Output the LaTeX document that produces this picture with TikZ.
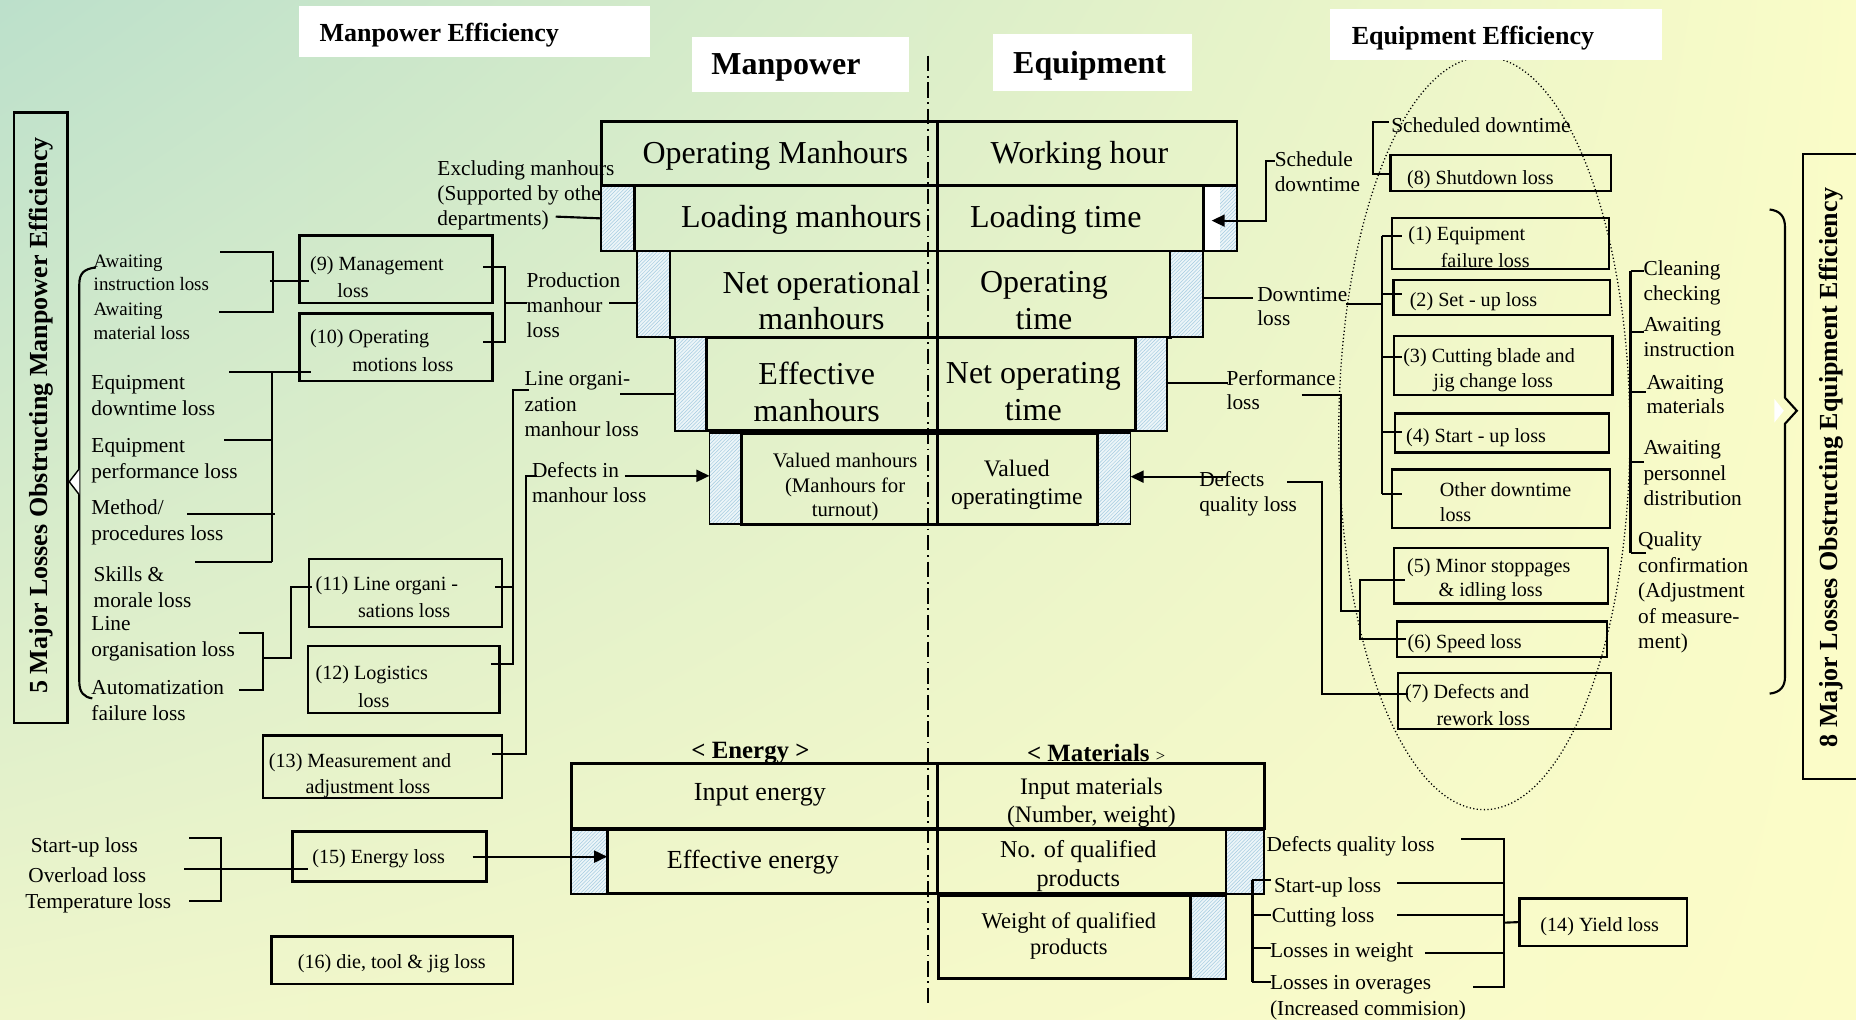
\documentclass[tikz,border=0pt]{standalone}
\usepackage{fontspec}
\setmainfont{Liberation Serif}
\usetikzlibrary{arrows.meta,patterns,shadings}
\definecolor{bgTL}{RGB}{188,224,203}
\definecolor{bgTR}{RGB}{250,252,200}
\definecolor{bgBL}{RGB}{239,246,203}
\definecolor{bgBR}{RGB}{252,252,200}
\definecolor{hatchbg}{RGB}{236,245,248}
\definecolor{hatchln}{RGB}{165,203,224}
\newcommand\szL{\fontsize{27}{31}\selectfont}
\newcommand\szM{\fontsize{22}{25}\selectfont}
\newcommand\szS{\fontsize{18}{22}\selectfont}
\newcommand\szB{\fontsize{17}{21}\selectfont}
\newcommand\szX{\fontsize{16}{20}\selectfont}
\newcommand\rect[6]{\node[#1,anchor=north west,minimum width={(#5-(#3))*1pt},minimum height={(#6-(#4))*1pt}] (#2) at (#3,#4) {};}
\begin{document}
\begin{tikzpicture}[x=1pt,y=-1pt,
  every node/.style={inner sep=0pt,outer sep=0pt},
  rowbox/.style={draw=black,line width=2.4pt},
  lossbox/.style={draw=black,line width=2pt},
  hatchbox/.style={draw=black,line width=1.6pt,preaction={fill=hatchbg},pattern=north east lines,pattern color=hatchln},
  whitebox/.style={fill=white},
  ln/.style={line width=1.8pt},
  arr/.style={line width=1.8pt,-{Triangle[length=11pt,width=10pt]}},
  lab/.style={anchor=west,align=left,font=\szS,yshift=-1pt},
  labx/.style={anchor=west,align=left,font=\szX},
  btxt/.style={anchor=west,align=left,font=\szB,yshift=-1.5pt},
  ctxt/.style={align=center,yshift=-1.5pt},
  big/.style={align=center,font=\szL,yshift=-2pt},
  hdr/.style={anchor=west,yshift=-2pt}]
\shade[upper left=bgTL,upper right=bgTR,lower left=bgBL,lower right=bgBR] (0,0) rectangle (1568,861);
\useasboundingbox (0,0) rectangle (1568,861);

% dotted ellipse and dash-dot axis
\draw[line width=1.1pt,dash pattern=on 1pt off 2pt] (1254,366) ellipse [x radius=123, y radius=318];
\draw[line width=1.3pt,dash pattern=on 13pt off 4pt on 1.5pt off 4pt] (784,47) -- (784,848);

% header boxes
\rect{whitebox}{hME}{253}{5}{549}{48}
\node[hdr,font=\bfseries\fontsize{22}{24}\selectfont] (tME) at (270,28) {Manpower Efficiency};
\rect{whitebox}{hMP}{585}{31}{768}{78}
\node[hdr,font=\bfseries\fontsize{27}{30}\selectfont] (tMP) at (601,55) {Manpower};
\rect{whitebox}{hEQ}{839}{29}{1007}{77}
\node[hdr,font=\bfseries\fontsize{27}{30}\selectfont] (tEQ) at (856,54) {Equipment};
\rect{whitebox}{hEE}{1124}{8}{1404}{51}
\node[hdr,font=\bfseries\fontsize{22}{24}\selectfont] (tEE) at (1142,30) {Equipment Efficiency};

% vertical title boxes
\rect{lossbox}{vL}{12}{95}{57}{611}
\node[rotate=90,font=\bfseries\fontsize{22}{24}\selectfont] (tvL) at (35,351) {5 Major Losses Obstructing Manpower Efficiency};
\draw[line width=2pt] (1570,130) -- (1523,130) -- (1523,658) -- (1570,658);
\node[rotate=90,font=\bfseries\fontsize{22}{24}\selectfont] (tvR) at (1547,395) {8 Major Losses Obstructing Equipment Efficiency};

% braces
\draw[line width=1.8pt] (81,226) .. controls (71,227) and (67,231) .. (67,240) -- (67,576) .. controls (67,585) and (71,589) .. (78,590);
\draw[line width=1.2pt,fill=white] (67,396) -- (58.5,407) -- (67,418);
\draw[line width=1.8pt] (1495,177) .. controls (1504,178) and (1508,183) .. (1508,192) -- (1508,336) -- (1518,347) -- (1508,358) -- (1508,572) .. controls (1508,580) and (1504,585) .. (1495,586);
\fill[white] (1499,337) -- (1507,347) -- (1499,357) -- cycle;

% left labels
\node[lab,font=\fontsize{18}{21.2}\selectfont] (Lexc) at (369.6,164) {Excluding manhours\\(Supported by other\\departments)};
\node[labx] (Law1) at (79.2,230.5) {Awaiting\\instruction loss};
\node[labx] (Law2) at (79.2,271.3) {Awaiting\\material loss};
\node[lab,font=\fontsize{18}{21}\selectfont] (Lprod) at (445,257) {Production\\manhour\\loss};
\node[lab] (Leqd) at (77.3,333) {Equipment\\downtime loss};
\node[lab] (Leqp) at (77.3,388.6) {Equipment\\performance loss};
\node[lab] (Lmeth) at (77.3,440.6) {Method/\\procedures loss};
\node[lab] (Lsk) at (79.2,495) {Skills \&\\morale loss};
\node[lab] (Llo) at (77.3,538.8) {Line\\organisation loss};
\node[lab] (Lau) at (77.3,591) {Automatization\\failure loss};
\node[lab,font=\fontsize{18}{21.5}\selectfont] (Llom) at (443.2,340.5) {Line organi-\\zation\\manhour loss};
\node[lab,font=\fontsize{18}{21}\selectfont] (Ldef) at (449.5,407) {Defects in\\manhour loss};
\node[lab] (Lsu) at (26,715) {Start-up loss};
\node[lab] (Lov) at (24,738) {Overload loss};
\node[lab] (Lte) at (21.4,762) {Temperature loss};

% right labels
\node[lab,font=\fontsize{18}{21}\selectfont] (Rsch) at (1077,144) {Schedule\\downtime};
\node[lab] (Rschd) at (1175.4,105) {Scheduled downtime};
\node[lab,font=\fontsize{18}{21}\selectfont] (Rdt) at (1062.2,258) {Downtime\\loss};
\node[lab,font=\fontsize{18}{20.5}\selectfont] (Rperf) at (1036.3,328.5) {Performance\\loss};
\node[lab,font=\fontsize{18}{21}\selectfont] (Rdq) at (1013.2,416) {Defects\\quality loss};
\node[lab,font=\fontsize{18}{20.6}\selectfont] (Rcl) at (1388.5,238) {Cleaning\\checking};
\node[lab,font=\fontsize{18}{20.6}\selectfont] (Rai) at (1388.5,283.6) {Awaiting\\instruction};
\node[lab,font=\fontsize{18}{20.6}\selectfont] (Ram) at (1391,332.3) {Awaiting\\materials};
\node[lab,font=\fontsize{18}{21.2}\selectfont] (Rap) at (1388.5,398.7) {Awaiting\\personnel\\distribution};
\node[lab,font=\fontsize{18}{21.5}\selectfont] (Rq) at (1384,499.5) {Quality\\confirmation\\(Adjustment\\of measure-\\ment)};
\node[lab] (Bdq) at (1070,714) {Defects quality loss};
\node[lab] (Bsu) at (1076.3,748.5) {Start-up loss};
\node[lab] (Bcu) at (1074.6,774.4) {Cutting loss};
\node[lab] (Blw) at (1073,804) {Losses in weight};
\node[lab] (Blo) at (1073,842.2) {Losses in overages\\(Increased commision)};

% central stack
\rect{rowbox}{r1L}{508}{103}{792}{157}
\rect{rowbox}{r1R}{792}{103}{1045}{157}
\rect{hatchbox}{h2L}{508}{157}{536}{212}
\rect{rowbox}{r2L}{536}{157}{792}{212}
\rect{rowbox}{r2R}{792}{157}{1017}{212}
\rect{hatchbox}{h2R}{1017}{157}{1045}{212}
\fill[white] (1018,158) rectangle (1031,211);
\rect{hatchbox}{h3L}{538}{212}{566}{285}
\rect{rowbox}{r3L}{566}{212}{792}{285}
\rect{rowbox}{r3R}{792}{212}{988.7}{285}
\rect{hatchbox}{h3R}{988.7}{212}{1016}{285}
\rect{hatchbox}{h4L}{570}{285}{597}{364}
\rect{rowbox}{r4L}{597}{285}{792}{364}
\rect{rowbox}{r4R}{792}{285}{959.6}{364}
\rect{hatchbox}{h4R}{959.6}{285}{986}{364}
\rect{hatchbox}{h5L}{599.4}{366}{626.6}{443}
\rect{rowbox}{r5L}{626.6}{366}{792}{443}
\rect{rowbox}{r5R}{792}{366}{927.5}{443}
\rect{hatchbox}{h5R}{927.5}{366}{955.1}{443}

\node[big] (tOM) at (655,130) {Operating Manhours};
\node[big] (tWH) at (912,130) {Working hour};
\node[big] (tLM) at (677,184) {Loading manhours};
\node[big] (tLT) at (892,184) {Loading time};
\node[big] (tNOM) at (694,252) {Net operational\\manhours};
\node[big] (tOT) at (882,252) {Operating\\time};
\node[big] (tEM) at (690,329) {Effective\\manhours};
\node[big] (tNOT) at (873,329) {Net operating\\time};
\node[ctxt,font=\fontsize{17.5}{21}\selectfont] (tVM) at (714,410) {Valued manhours\\(Manhours for\\turnout)};
\node[ctxt,font=\fontsize{20}{24}\selectfont] (tVO) at (859,408) {Valued\\operatingtime};

% energy / materials
\node[ctxt,font=\bfseries\fontsize{21}{24}\selectfont] (tEn) at (634,635) {< Energy >};
\node[ctxt,font=\bfseries\fontsize{21}{24}\selectfont] (tMa) at (926,635) {< Materials {\mdseries\fontsize{14}{16}\selectfont >}};
\rect{rowbox}{eIn}{482.5}{645}{792}{700}
\rect{rowbox}{mIn}{792}{645}{1068}{700}
\rect{hatchbox}{hE}{482.5}{701}{513}{755}
\rect{rowbox}{eEf}{513}{701}{792}{755}
\rect{rowbox}{mNo}{792}{701}{1036}{755}
\rect{hatchbox}{hM1}{1036}{701}{1068}{755}
\rect{rowbox}{mW}{793}{757}{1006}{827}
\rect{hatchbox}{hM2}{1006}{757}{1036}{827}
\node[ctxt,font=\szM] (tIE) at (642,670) {Input energy};
\node[ctxt,font=\szM] (tEF) at (636,727) {Effective energy};
\node[ctxt,font=\fontsize{20}{24}\selectfont] (tIM) at (922,677) {Input materials\\(Number, weight)};
\node[ctxt,font=\fontsize{20.5}{25}\selectfont] (tNQ) at (911,730) {No. of qualified\\products};
\node[ctxt,font=\fontsize{19}{22}\selectfont] (tWQ) at (903,789) {Weight of qualified\\products};

% loss boxes
\rect{lossbox}{b9}{253}{199}{416}{256}
\node[btxt] (t9a) at (262,223) {(9) Management};
\node[btxt] (t9b) at (285,244) {loss};
\rect{lossbox}{b10}{253}{265}{416}{322}
\node[btxt] (t10a) at (262,285) {(10) Operating};
\node[btxt] (t10b) at (297.6,306.4) {motions loss};
\rect{lossbox}{b11}{261}{472.5}{424}{529.5}
\node[btxt] (t11a) at (266.6,493.4) {(11) Line organi -};
\node[btxt] (t11b) at (302.5,514) {sations loss};
\rect{lossbox}{b12}{260}{545.5}{422}{602.5}
\node[btxt] (t12a) at (266.6,568.8) {(12) Logistics};
\node[btxt] (t12b) at (302.5,590) {loss};
\rect{lossbox}{b13}{222}{621.5}{424}{674}
\node[btxt] (t13a) at (227.2,642.6) {(13) Measurement and};
\node[btxt] (t13b) at (258.2,664.6) {adjustment loss};
\rect{lossbox}{b15}{247}{702.6}{411}{744.8}
\node[btxt] (t15) at (263.9,724.3) {(15) Energy loss};
\rect{lossbox}{b16}{229.5}{791.3}{433.3}{831.3}
\node[ctxt,font=\szB] (t16) at (331,812.4) {(16) die, tool \& jig loss};
\rect{lossbox}{b8}{1174.6}{131}{1361.1}{161.4}
\node[btxt] (t8) at (1188.8,150.1) {(8) Shutdown loss};
\rect{lossbox}{b1}{1176}{184}{1359.3}{227.3}
\node[btxt] (t1a) at (1189.9,197.7) {(1) Equipment};
\node[btxt] (t1b) at (1217.2,218.2) {failure loss};
\rect{lossbox}{b2}{1177.2}{236.5}{1360.4}{266.1}
\node[btxt] (t2) at (1191,253.4) {(2) Set - up loss};
\rect{lossbox}{b3}{1177.9}{283.6}{1362.2}{333.7}
\node[btxt] (t3a) at (1185.5,300.5) {(3) Cutting blade and};
\node[btxt] (t3b) at (1211,321.9) {jig change loss};
\rect{lossbox}{b4}{1178.6}{349.2}{1359.3}{382.4}
\node[btxt] (t4) at (1188,368.3) {(4) Start - up loss};
\rect{lossbox}{bO}{1176}{396.5}{1360}{445.8}
\node[btxt] (tOa) at (1216.5,412) {Other downtime};
\node[btxt] (tOb) at (1216.5,433.1) {loss};
\rect{lossbox}{b5}{1177.9}{462.7}{1358.5}{509.7}
\node[btxt] (t5a) at (1188.8,478.2) {(5) Minor stoppages};
\node[btxt] (t5b) at (1215.4,498.4) {\& idling loss};
\rect{lossbox}{b6}{1180.1}{525.2}{1357.4}{555.3}
\node[btxt] (t6) at (1189.2,542.1) {(6) Speed loss};
\rect{lossbox}{b7}{1180.8}{568.8}{1361.1}{615.9}
\node[btxt] (t7a) at (1187,584.3) {(7) Defects and};
\node[btxt] (t7b) at (1213.6,605.4) {rework loss};
\rect{lossbox}{b14}{1283.6}{759}{1425.4}{799}
\node[btxt] (t14) at (1301.4,781.4) {(14) Yield loss};

% ---------- left connectors
\draw[ln] (469.5,183) -- (h2L.west);
\draw[ln] (186,213.2) -- (230.4,213.2) -- (230.4,263.9) -- (184.8,263.9);
\draw[ln] (228,237.4) -- (b9.west |- 0,237.4) -- +(8,0);
\draw[ln] (408.3,225.3) -- (426.6,225.3) -- (426.6,289.2) -- (408.3,289.2);
\draw[ln] (426.6,256) -- (Lprod.west |- 0,256);
\draw[ln] (514.8,256.2) -- (h3L.west |- 0,256.2);
\draw[ln] (193.5,314.6) -- (262.8,314.6);
\draw[ln] (230,314.6) -- (230,475);
\draw[ln] (189.3,371.7) -- (230,371.7);
\draw[ln] (158.4,434.5) -- (232,434.5);
\draw[ln] (164.8,475) -- (230,475);
\draw[ln] (201.8,534.5) -- (222.5,534.5) -- (222.5,583) -- (201.8,583);
\draw[ln] (222.5,556.2) -- (245.9,556.2) -- (245.9,495.6) -- (264,495.6);
\draw[ln] (418.6,495.6) -- (433.7,495.6);
\draw[ln] (414.8,561.2) -- (433.7,561.2) -- (433.7,329.5) -- (446.9,329.5);
\draw[ln] (524.2,333) -- (h4L.west |- 0,333);
\draw[arr] (528,402) -- (h5L.west |- 0,402);
\draw[ln] (453.7,402.1) -- (444.3,402.1) -- (444.3,637.3) -- (415.9,637.3);
\draw[ln] (159.7,708.2) -- (187,708.2) -- (187,761.2) -- (159.7,761.2);
\draw[ln] (155.7,734.2) -- (259.9,734.2);
\draw[arr] (399.2,723.7) -- (hE.east |- 0,723.7);

% ---------- right connectors
\draw[arr] (1077.1,135.7) -- (1069.6,135.7) -- (1069.6,186.4) -- (1023.6,186.4);
\draw[ln] (1173.4,103.4) -- (1159.7,103.4) -- (1159.7,147.3) -- (b8.west |- 0,147.3);
\draw[ln] (h3R.east |- 0,251.5) -- (1058.3,251.5);
\draw[ln] (1137.1,256.8) -- (1167.4,256.8);
\draw[ln] (1167.4,199.1) -- (1167.4,417.6);
\foreach \yy in {199.1,248.7,301.3,364.7,417.6} \draw[ln] (1167.4,\yy) -- (1184.4,\yy);
\draw[ln] (h4R.east |- 0,323.5) -- (1037.7,323.5);
\draw[ln] (1099.7,333.7) -- (1132.6,333.7) -- (1132.6,515.9) -- (1149.1,515.9);
\draw[ln] (1187,490) -- (1149.1,490) -- (1149.1,539.8) -- (1187.6,539.8);
\draw[arr] (1035.8,402.7) -- (h5R.east |- 0,402.7);
\draw[ln] (1087.5,407.5) -- (1116.5,407.5) -- (1116.5,586.6) -- (1189.9,586.6);
\draw[ln] (1377.5,228.7) -- (1377.5,466.9);
\draw[ln] (1377.5,228.7) -- (1388.5,228.7);
\draw[ln] (1377.5,280.2) -- (1388.5,280.2);
\draw[ln] (1377.5,331.5) -- (1390.7,331.5);
\draw[ln] (1377.5,390.6) -- (1388.5,390.6);
\draw[ln] (1377.5,466.9) -- (1390.7,466.9);
\draw[ln] (1058.1,743.4) -- (1058.1,829.3);
\foreach \yy in {743.4,773,801.1,829.3} \draw[ln] (1058.1,\yy) -- (1073.5,\yy);
\draw[ln] (1234.6,709) -- (1270.6,709) -- (1270.6,833.6) -- (1244.8,833.6);
\draw[ln] (1180.4,745.7) -- (1270.6,745.7);
\draw[ln] (1180.4,773) -- (1270.6,773);
\draw[ln] (1203.8,804.8) -- (1270.6,804.8);
\draw[ln] (1270.6,779.5) -- (b14.west);
\end{tikzpicture}
\end{document}
